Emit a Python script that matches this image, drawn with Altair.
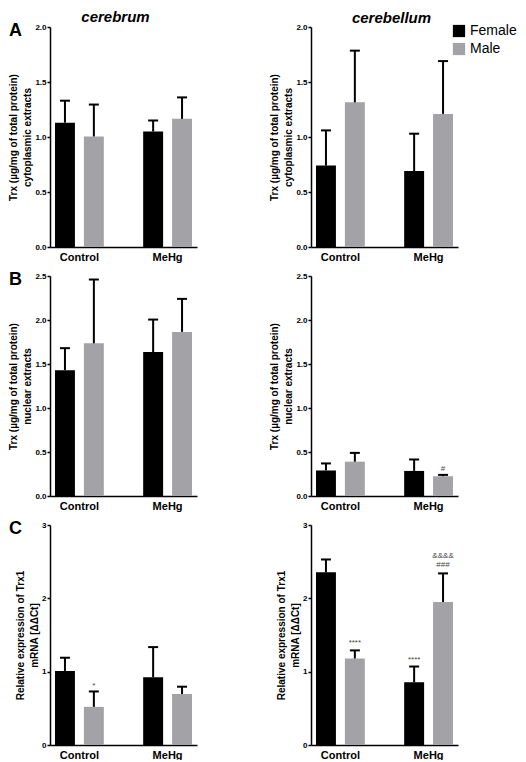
import altair as alt
import pandas as pd

FONT = "Liberation Sans"

groups = ["Control", "MeHg"]
sexes = ["Female", "Male"]
# order of values: Control-Female, Control-Male, MeHg-Female, MeHg-Male
a_cerebrum_mean = [1.13, 1.005, 1.05, 1.165]
a_cerebrum_upper = [1.33, 1.295, 1.15, 1.36]
a_cerebellum_mean = [0.74, 1.315, 0.69, 1.21]
a_cerebellum_upper = [1.06, 1.785, 1.03, 1.69]
b_cerebrum_mean = [1.43, 1.735, 1.635, 1.865]
b_cerebrum_upper = [1.68, 2.46, 2.005, 2.24]
b_cerebellum_mean = [0.29, 0.39, 0.285, 0.225]
b_cerebellum_upper = [0.37, 0.49, 0.415, 0.24]
c_cerebrum_mean = [1.01, 0.52, 0.925, 0.695]
c_cerebrum_upper = [1.19, 0.73, 1.335, 0.795]
c_cerebellum_mean = [2.355, 1.18, 0.855, 1.95]
c_cerebellum_upper = [2.53, 1.29, 1.07, 2.34]

# significance marks: (group, sex, label, position)
c_cerebrum_marks = [("Control", "Male", "*", 0.81)]
b_cerebellum_marks = [("MeHg", "Male", "#", 0.31)]
c_cerebellum_marks = [
    ("Control", "Male", "****", 1.39),
    ("MeHg", "Female", "****", 1.16),
    ("MeHg", "Male", "###", 2.45),
    ("MeHg", "Male", "&&&&", 2.58),
]

trx_cyto = ["Trx (\u00b5g/mg of total protein)", "cytoplasmic extracts"]
trx_nuc = ["Trx (\u00b5g/mg of total protein)", "nuclear extracts"]
mrna = ["Relative expression of Trx1", "mRNA [\u0394\u0394Ct]"]

color_scale = alt.Scale(domain=sexes, range=["#000000", "#a3a3a7"])


def panel(mean, upper, ymax, ticks, fmt, ytitle, title=None, title_dx=0,
          letter=None, legend=False, marks=None):
    rows = []
    i = 0
    for g in groups:
        for s in sexes:
            rows.append({"group": g, "sex": s, "mean": mean[i], "upper": upper[i]})
            i += 1
    df = pd.DataFrame(rows)
    x = alt.X("group:N", sort=groups,
              scale=alt.Scale(paddingInner=0.446, paddingOuter=0.0565),
              axis=alt.Axis(title=None, labelAngle=0, ticks=False, labelFontSize=11,
                            labelFontWeight="bold", labelPadding=4, domainWidth=1.5,
                            domainColor="black", labelColor="black", labelFont=FONT))
    xo = alt.XOffset("sex:N", sort=sexes,
                     scale=alt.Scale(paddingInner=0.31, paddingOuter=0))
    yscale = alt.Scale(domain=[0, ymax], nice=False, zero=True)
    y = alt.Y("mean:Q", scale=yscale,
              axis=alt.Axis(values=ticks, format=fmt, title=ytitle, grid=False,
                            tickSize=3, labelPadding=1, labelFontSize=8,
                            labelFontWeight="bold", labelFont=FONT, titleFont=FONT,
                            titleFontSize=10, titleFontWeight="bold", titleLineHeight=14,
                            titlePadding=2, domainWidth=1.5, domainColor="black",
                            tickColor="black", tickWidth=1.5, labelColor="black",
                            titleColor="black"))
    if legend:
        leg = alt.Legend(orient="none", legendX=141, legendY=-3, title=None,
                         symbolType="square", symbolSize=150, symbolStrokeWidth=0,
                         labelFontSize=14, labelFont=FONT, labelColor="black",
                         rowPadding=4, symbolOpacity=1)
    else:
        leg = None
    base = alt.Chart(df)
    bars = base.mark_bar().encode(
        x=x, xOffset=xo, y=y,
        color=alt.Color("sex:N", scale=color_scale, legend=leg),
    )
    rules = base.mark_rule(color="black", strokeWidth=2).encode(
        x=x, xOffset=xo, y=alt.Y("mean:Q", scale=yscale), y2="upper:Q")
    caps = base.mark_tick(color="black", thickness=2, size=10, opacity=1).encode(
        x=x, xOffset=xo, y=alt.Y("upper:Q", scale=yscale))
    layers = [bars, rules, caps]
    if marks:
        mdf = pd.DataFrame(marks, columns=["group", "sex", "label", "pos"])
        layers.append(
            alt.Chart(mdf).mark_text(fontSize=8, color="#444444", baseline="middle",
                                     font=FONT).encode(
                x=x, xOffset=xo, y=alt.Y("pos:Q", scale=yscale), text="label:N"))
    if letter:
        ldf = pd.DataFrame({"t": [letter]})
        layers.append(
            alt.Chart(ldf).mark_text(align="left", baseline="top", fontSize=18,
                                     fontWeight="bold", font=FONT, color="black").encode(
                text="t:N", x=alt.value(-41), y=alt.value(-5)))
    ch = alt.layer(*layers).properties(width=147, height=220)
    if title:
        ch = ch.properties(title=alt.TitleParams(title, fontSize=15, fontWeight="bold",
                                                  fontStyle="italic", font=FONT, dx=title_dx,
                                                  offset=-3, color="black"))
    return ch


tick2 = [0, 0.5, 1.0, 1.5, 2.0]
tick25 = [0, 0.5, 1.0, 1.5, 2.0, 2.5]
tick3 = [0, 1, 2, 3]

a1 = panel(a_cerebrum_mean, a_cerebrum_upper, 2.0, tick2, ".1f", trx_cyto,
           title="cerebrum", title_dx=-8, letter="A")
a2 = panel(a_cerebellum_mean, a_cerebellum_upper, 2.0, tick2, ".1f", trx_cyto,
           title="cerebellum", title_dx=7, legend=True)
b1 = panel(b_cerebrum_mean, b_cerebrum_upper, 2.5, tick25, ".1f", trx_nuc, letter="B")
b2 = panel(b_cerebellum_mean, b_cerebellum_upper, 2.5, tick25, ".1f", trx_nuc,
           marks=b_cerebellum_marks)
c1 = panel(c_cerebrum_mean, c_cerebrum_upper, 3, tick3, "d", mrna, letter="C",
           marks=c_cerebrum_marks)
c2 = panel(c_cerebellum_mean, c_cerebellum_upper, 3, tick3, "d", mrna,
           marks=c_cerebellum_marks)

chart = alt.concat(a1, a2, b1, b2, c1, c2, columns=2,
                   spacing={"row": 9, "column": 72}).resolve_legend(
    color="independent").properties(
    padding={"top": 2, "left": 0, "right": 0, "bottom": 0}).configure_view(stroke=None)

chart.save("out.html", embed_options={"renderer": "svg", "actions": False})
